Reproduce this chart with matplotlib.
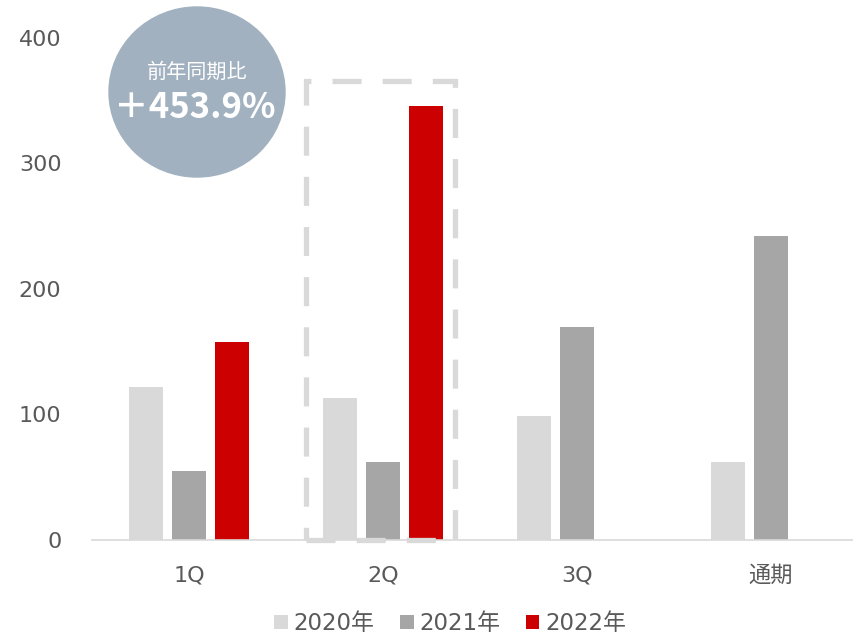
import numpy as np
import matplotlib
matplotlib.use('Agg')
import matplotlib.pyplot as plt
from matplotlib.patches import Ellipse, Rectangle

plt.rcParams['font.family'] = ['DejaVu Sans', 'Noto Sans CJK JP']

categories = ['1Q', '2Q', '3Q', '通期']
series = ['2020年', '2021年', '2022年']
v2020 = [122, 113, 99, 62]
v2021 = [55, 62, 170, 242]
v2022 = [158, 346, np.nan, np.nan]
colors = ['#d9d9d9', '#a6a6a6', '#cc0000']
yticks = [0, 100, 200, 300, 400]

fig = plt.figure(figsize=(8.54, 6.38), dpi=100)
ax = fig.add_axes([92 / 854, 98 / 638, 776 / 854, 502 / 638])

x = np.arange(len(categories))
offset = 0.222
width = 0.175
for i, (vals, name, c) in enumerate(zip([v2020, v2021, v2022], series, colors)):
    ax.bar(x + (i - 1) * offset, vals, width, color=c, label=name, zorder=2)

# 2Qを囲む破線の枠
rect = Rectangle((0.603, 0), 1.371 - 0.603, 366, fill=False, edgecolor='#d9d9d9',
                 linewidth=3.8, linestyle=(0, (5.5, 4)), zorder=3, clip_on=False)
ax.add_patch(rect)

ax.set_xlim(-0.5, 3.5)
ax.set_ylim(0, 400)
ax.set_xticks(x)
ax.set_xticklabels(categories)
ax.set_yticks(yticks)
ax.tick_params(axis='both', length=0, labelsize=16, labelcolor='#595959')
ax.tick_params(axis='x', pad=18)
ax.tick_params(axis='y', pad=22)
for s in ['top', 'right', 'left']:
    ax.spines[s].set_visible(False)
ax.spines['bottom'].set_color('#d9d9d9')
ax.spines['bottom'].set_linewidth(1.2)

# 前年同期比の円
circle = Ellipse((197 / 854, 1 - 92 / 638), 176 / 854, 170 / 638,
                 transform=fig.transFigure, color='#a2b1bf', zorder=5)
fig.add_artist(circle)
fig.text(197 / 854, 1 - 72 / 638, '前年同期比', ha='center', va='center',
         fontsize=14.5, color='white', family=['Noto Sans CJK JP', 'DejaVu Sans'], zorder=6)
fig.text(195 / 854, 1 - 107 / 638, '＋453.9%', ha='center', va='center',
         fontsize=25, fontweight='bold', color='white',
         family=['Noto Sans CJK JP', 'DejaVu Sans'], zorder=6)

leg = fig.legend(loc='lower center', bbox_to_anchor=(0.527, -0.028), ncol=3, frameon=False,
                 fontsize=16.5, handlelength=0.6, handleheight=0.6, handletextpad=0.25,
                 columnspacing=1.1)
for t in leg.get_texts():
    t.set_color('#595959')

fig.savefig('out.png', dpi=100)
